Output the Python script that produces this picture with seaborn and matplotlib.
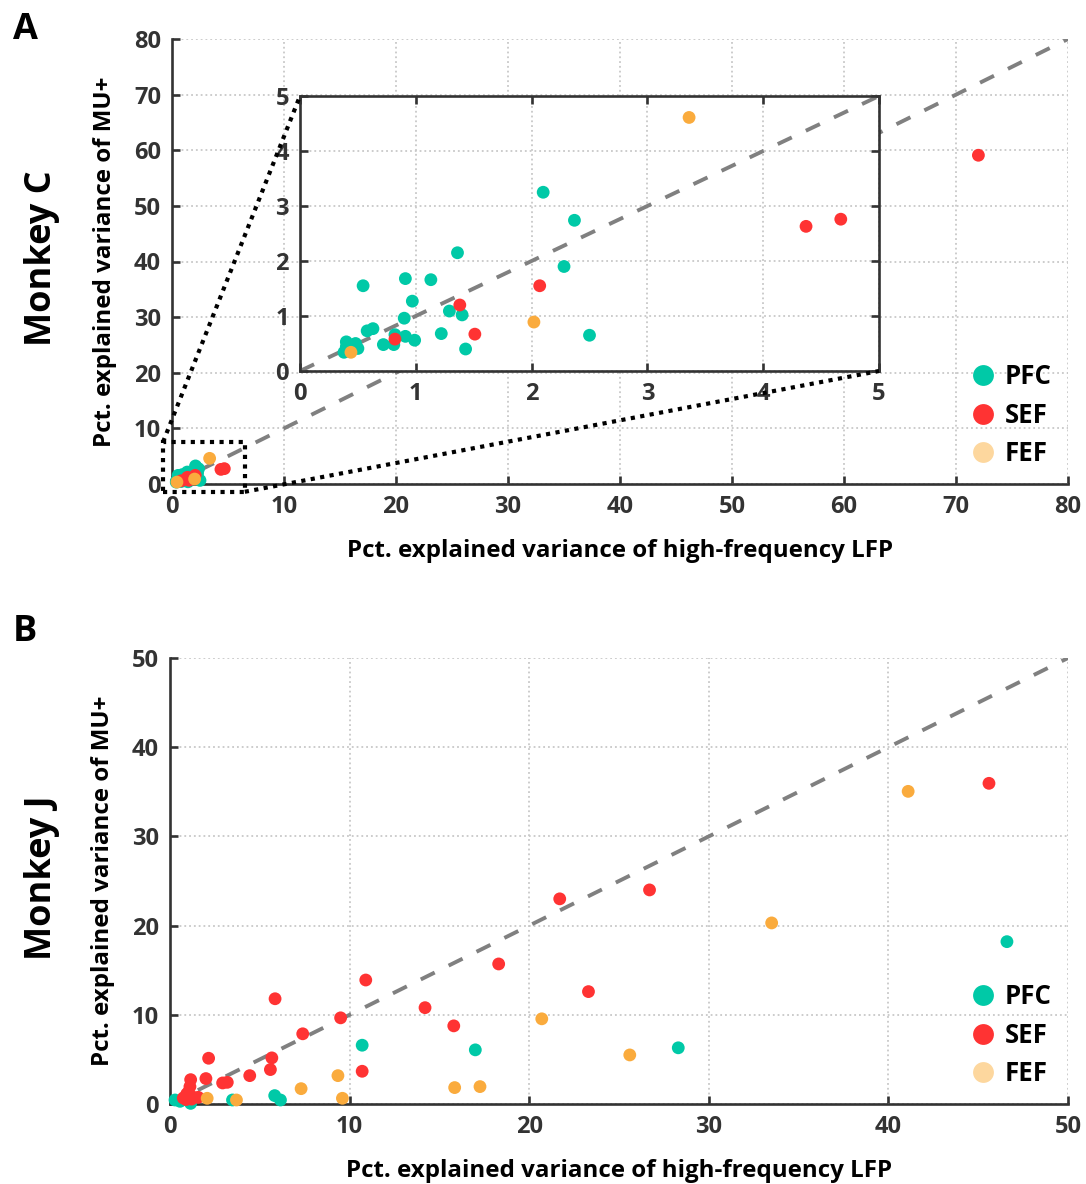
import numpy as np
import pandas as pd
import matplotlib
matplotlib.use("Agg")
import matplotlib.pyplot as plt
import seaborn as sns
from matplotlib.lines import Line2D
from matplotlib.patches import Rectangle, ConnectionPatch

# ---------------- data ----------------
areas = ["PFC", "SEF", "FEF"]

# Monkey C (panel A)
c_pfc_x = [2.10, 2.37, 1.36, 2.28, 0.545, 0.91, 1.13, 0.97, 1.29, 1.40, 0.90, 0.58, 0.63,
           1.22, 2.50, 0.82, 0.91, 0.99, 0.72, 0.81, 1.43, 0.40, 0.48, 0.38, 0.50, 0.43, 0.40]
c_pfc_y = [3.25, 2.74, 2.15, 1.90, 1.55, 1.68, 1.66, 1.27, 1.09, 1.02, 0.96, 0.73, 0.77,
           0.68, 0.65, 0.66, 0.63, 0.56, 0.48, 0.48, 0.40, 0.53, 0.50, 0.34, 0.41, 0.44, 0.44]
c_sef_x = [4.37, 4.67, 2.07, 1.38, 1.51, 0.82, 72.0]
c_sef_y = [2.63, 2.76, 1.55, 1.20, 0.67, 0.58, 59.1]
c_fef_x = [3.36, 2.02, 0.44]
c_fef_y = [4.61, 0.89, 0.34]

# Monkey J (panel B)
j_pfc_x = [46.6, 28.3, 17.0, 10.7, 5.83, 6.15, 3.48, 0.28, 0.56, 1.15]
j_pfc_y = [18.2, 6.3, 6.07, 6.59, 0.94, 0.45, 0.45, 0.45, 0.30, 0.07]
j_sef_x = [45.6, 26.7, 21.7, 18.3, 23.3, 15.8, 14.2, 10.9, 5.85, 9.5, 7.39, 2.15, 5.67, 5.59,
           4.44, 10.7, 2.0, 2.93, 3.19, 1.15, 1.11, 0.93, 1.3, 0.74, 1.57, 1.02, 1.2, 0.9]
j_sef_y = [35.95, 24.0, 23.0, 15.7, 12.6, 8.76, 10.8, 13.9, 11.8, 9.66, 7.87, 5.13, 5.17, 3.86,
           3.18, 3.67, 2.85, 2.36, 2.43, 2.73, 1.95, 1.12, 0.75, 0.67, 0.75, 1.31, 0.55, 0.5]
j_fef_x = [41.1, 33.5, 25.6, 20.7, 17.26, 15.85, 9.35, 7.30, 9.6, 2.07, 3.7]
j_fef_y = [35.05, 20.3, 5.5, 9.55, 1.95, 1.84, 3.18, 1.72, 0.64, 0.64, 0.45]

ticks_A = [0, 10, 20, 30, 40, 50, 60, 70, 80]
ticks_inset = [0, 1, 2, 3, 4, 5]
ticks_B = [0, 10, 20, 30, 40, 50]

xlabel = "Pct. explained variance of high-frequency LFP"
ylabel = "Pct. explained variance of MU+"

# ---------------- style ----------------
palette = {"PFC": "#00C9A7", "SEF": "#FF3333", "FEF": "#FAAB3D"}
legend_colors = {"PFC": "#00C9A7", "SEF": "#FF3333", "FEF": "#FDD79E"}
TICK_COLOR = "#333333"

sns.set_theme(style="white")
plt.rcParams["font.family"] = ["Open Sans", "DejaVu Sans"]
plt.rcParams["font.weight"] = "bold"


def make_df(px, py, sx, sy, fx, fy):
    return pd.DataFrame({
        "lfp": list(px) + list(sx) + list(fx),
        "mu": list(py) + list(sy) + list(fy),
        "area": ["PFC"] * len(px) + ["SEF"] * len(sx) + ["FEF"] * len(fx),
    })


dfA = make_df(c_pfc_x, c_pfc_y, c_sef_x, c_sef_y, c_fef_x, c_fef_y)
dfB = make_df(j_pfc_x, j_pfc_y, j_sef_x, j_sef_y, j_fef_x, j_fef_y)

fig = plt.figure(figsize=(10.86, 11.84), dpi=100)


def style_axes(ax, ticks, box=False, labelsize=17):
    lim = (ticks[0], ticks[-1])
    ax.set_xlim(lim)
    ax.set_ylim(lim)
    ax.set_xticks(ticks)
    ax.set_yticks(ticks)
    ax.grid(True, linestyle=":", color="#c8c8c8", linewidth=1.3)
    for side in ["left", "bottom"]:
        ax.spines[side].set_color(TICK_COLOR)
        ax.spines[side].set_linewidth(1.9)
    for side in ["top", "right"]:
        ax.spines[side].set_visible(box)
        ax.spines[side].set_color(TICK_COLOR)
        ax.spines[side].set_linewidth(1.9)
    ax.tick_params(direction="in", length=6, width=1.9, color=TICK_COLOR,
                   labelsize=labelsize, labelcolor=TICK_COLOR, pad=8,
                   top=box, right=box, bottom=True, left=True)
    for lab in ax.get_xticklabels() + ax.get_yticklabels():
        lab.set_fontweight("bold")


def diag(ax, hi):
    ax.plot([0, hi], [0, hi], linestyle=(0, (4, 4)), color="#808080",
            linewidth=2.8, zorder=2)


def scatter(ax, df):
    sns.scatterplot(data=df, x="lfp", y="mu", hue="area", hue_order=areas,
                    palette=palette, s=85, linewidth=0, ax=ax, legend=False,
                    clip_on=False, zorder=3)
    ax.set_xlabel("")
    ax.set_ylabel("")


def legend(ax):
    handles = [Line2D([0], [0], marker="o", linestyle="none", markersize=15,
                      markerfacecolor=legend_colors[a], markeredgewidth=0)
               for a in areas]
    leg = ax.legend(handles, areas, loc="lower right", bbox_to_anchor=(1.0, 0.0),
                    frameon=False, handlelength=1.0, handletextpad=0.35,
                    labelspacing=0.45,
                    prop={"weight": "bold", "size": 18.5}, borderaxespad=0.25)
    for t in leg.get_texts():
        t.set_color("black")


LABEL_FS = 17.4

# ---------------- panel A ----------------
axA = fig.add_axes([172 / 1086, 1 - 484 / 1184, 896 / 1086, 445 / 1184])
diag(axA, 80)
scatter(axA, dfA)
style_axes(axA, ticks_A)
axA.set_xlabel(xlabel, fontsize=LABEL_FS, fontweight="bold", color="black", labelpad=14)
axA.set_ylabel(ylabel, fontsize=LABEL_FS, fontweight="bold", color="black", labelpad=12)
legend(axA)

# zoom rectangle
DOT = (0, (1, 1.3))
rect = Rectangle((-0.8, -1.4), 7.3, 8.95, fill=False, edgecolor="black",
                 linewidth=3, linestyle=DOT, clip_on=False, zorder=5)
axA.add_patch(rect)

# inset
axI = fig.add_axes([300 / 1086, 1 - 371 / 1184, 579 / 1086, 275 / 1184])
diag(axI, 5)
scatter(axI, dfA)
style_axes(axI, ticks_inset, box=True)
axI.set_zorder(4)

for (xa, ya), (xb, yb) in [((-0.8, 7.55), (0, 1)), ((6.5, -1.4), (1, 0))]:
    con = ConnectionPatch(xyA=(xa, ya), coordsA=axA.transData,
                          xyB=(xb, yb), coordsB=axI.transAxes,
                          color="black", linewidth=3, linestyle=DOT,
                          capstyle="butt", zorder=6)
    fig.add_artist(con)

# ---------------- panel B ----------------
axB = fig.add_axes([170 / 1086, 1 - 1104 / 1184, 898 / 1086, 446 / 1184])
diag(axB, 50)
scatter(axB, dfB)
style_axes(axB, ticks_B)
axB.set_xlabel(xlabel, fontsize=LABEL_FS, fontweight="bold", color="black", labelpad=14)
axB.set_ylabel(ylabel, fontsize=LABEL_FS, fontweight="bold", color="black", labelpad=12)
legend(axB)

# panel labels and monkey names
fig.text(25 / 1086, 1 - 30 / 1184, "A", fontsize=26, fontweight="bold",
         ha="center", va="center", color="black")
fig.text(25 / 1086, 1 - 632 / 1184, "B", fontsize=26, fontweight="bold",
         ha="center", va="center", color="black")
fig.text(42 / 1086, 1 - 258 / 1184, "Monkey C", fontsize=26, fontweight="bold",
         rotation=90, ha="center", va="center", color="black")
fig.text(42 / 1086, 1 - 878 / 1184, "Monkey J", fontsize=26, fontweight="bold",
         rotation=90, ha="center", va="center", color="black")

fig.savefig("out.png", dpi=100, facecolor="white")
